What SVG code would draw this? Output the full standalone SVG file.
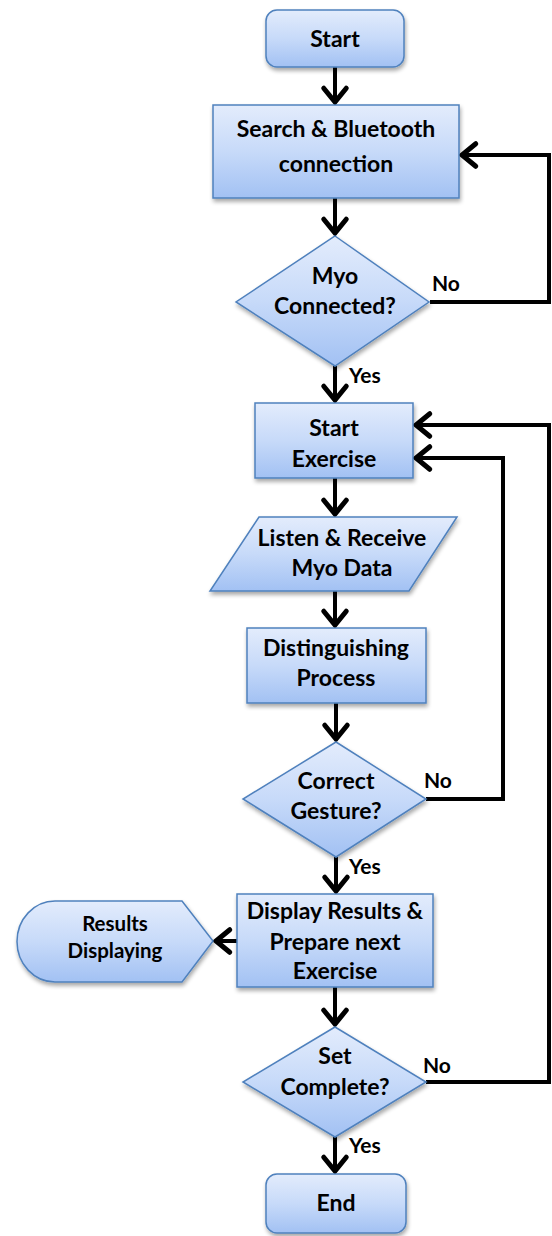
<svg xmlns="http://www.w3.org/2000/svg" width="552" height="1236" viewBox="0 0 552 1236">
  <defs>
    <linearGradient id="g" x1="0" y1="0" x2="0" y2="1">
      <stop offset="0" stop-color="#e3ecfc"/>
      <stop offset="0.5" stop-color="#c7daf9"/>
      <stop offset="1" stop-color="#a2c1f3"/>
    </linearGradient>
    <filter id="sh" x="-10%" y="-10%" width="125%" height="130%">
      <feGaussianBlur in="SourceAlpha" stdDeviation="2"/>
      <feOffset dx="1" dy="3" result="b"/>
      <feComponentTransfer><feFuncA type="linear" slope="0.35"/></feComponentTransfer>
      <feMerge><feMergeNode/><feMergeNode in="SourceGraphic"/></feMerge>
    </filter>
    <marker id="ah" markerUnits="userSpaceOnUse" markerWidth="30" markerHeight="30" viewBox="-16 -12 20 24" refX="0" refY="0" orient="auto">
      <path d="M-11,-9 L0,0 L-11,9" fill="none" stroke="#000" stroke-width="4" stroke-linecap="round" stroke-linejoin="miter"/>
    </marker>
  </defs>
  <style>
    .n { fill: url(#g); stroke: #4f81bd; stroke-width: 1.5; filter: url(#sh); }
    .t { font-family: Lato, "Liberation Sans", sans-serif; font-weight: bold; font-size: 23px; fill: #000; text-anchor: middle; }
    .s { font-size: 20.5px; }
    .l { font-family: Lato, "Liberation Sans", sans-serif; font-weight: bold; font-size: 21px; fill: #000; }
    .c { fill: none; stroke: #000; stroke-width: 4; stroke-linejoin: miter; marker-end: url(#ah); }
  </style>

  <g id="connectors">
    <path class="c" d="M335,67 L335,102"/>
    <path class="c" d="M335,198 L335,233"/>
    <path class="c" d="M430,302 L549,302 L549,155 L462,155"/>
    <path class="c" d="M335,366 L335,400"/>
    <path class="c" d="M335,478 L335,514"/>
    <path class="c" d="M335,591 L335,625"/>
    <path class="c" d="M336,703 L336,739"/>
    <path class="c" d="M426,799 L503,799 L503,458 L416,458"/>
    <path class="c" d="M426,1082 L549,1082 L549,425 L416,425"/>
    <path class="c" d="M336,857 L336,891"/>
    <path class="c" d="M237,941 L216,941"/>
    <path class="c" d="M335,987 L335,1024"/>
    <path class="c" d="M335,1137 L335,1171"/>
    <text class="l" x="432" y="291">No</text>
    <text class="l" x="349" y="383">Yes</text>
    <text class="l" x="424" y="788">No</text>
    <text class="l" x="349" y="874">Yes</text>
    <text class="l" x="423" y="1073">No</text>
    <text class="l" x="349" y="1153">Yes</text>
  </g>

  <g id="start">
    <rect class="n" x="266" y="10" width="138" height="57" rx="11"/>
    <text class="t" x="335" y="47">Start</text>
  </g>
  <g id="search">
    <rect class="n" x="213" y="105" width="246" height="93"/>
    <text class="t" x="336" y="137">Search &amp; Bluetooth</text>
    <text class="t" x="336" y="172">connection</text>
  </g>
  <g id="myo-connected">
    <polygon class="n" points="335,236 429,302 335,366 236,302"/>
    <text class="t" x="335" y="284">Myo</text>
    <text class="t" x="335" y="314">Connected?</text>
  </g>
  <g id="start-exercise">
    <rect class="n" x="255" y="403" width="158" height="75"/>
    <text class="t" x="334" y="436">Start</text>
    <text class="t" x="334" y="467">Exercise</text>
  </g>
  <g id="listen">
    <polygon class="n" points="259,517 457,517 409,591 210,591"/>
    <text class="t" x="342" y="546">Listen &amp; Receive</text>
    <text class="t" x="342" y="576">Myo Data</text>
  </g>
  <g id="distinguishing">
    <rect class="n" x="247" y="628" width="179" height="75"/>
    <text class="t" x="336" y="656">Distinguishing</text>
    <text class="t" x="336" y="686">Process</text>
  </g>
  <g id="correct-gesture">
    <polygon class="n" points="336,742 426,799 336,857 243,799"/>
    <text class="t" x="336" y="789">Correct</text>
    <text class="t" x="336" y="819">Gesture?</text>
  </g>
  <g id="display-results">
    <rect class="n" x="237" y="894" width="196" height="93"/>
    <text class="t" x="335" y="919">Display Results &amp;</text>
    <text class="t" x="335" y="950">Prepare next</text>
    <text class="t" x="335" y="979">Exercise</text>
  </g>
  <g id="results-displaying">
    <path class="n" d="M55,901 L182,901 L213,941 L182,982 L55,982 A38,40.5 0 0 1 55,901 Z"/>
    <text class="t s" x="115" y="931">Results</text>
    <text class="t s" x="115" y="958">Displaying</text>
  </g>
  <g id="set-complete">
    <polygon class="n" points="335,1027 426,1082 335,1137 243,1082"/>
    <text class="t" x="335" y="1064">Set</text>
    <text class="t" x="335" y="1095">Complete?</text>
  </g>
  <g id="end">
    <rect class="n" x="266" y="1174" width="140" height="59" rx="11"/>
    <text class="t" x="336" y="1211">End</text>
  </g>
</svg>
